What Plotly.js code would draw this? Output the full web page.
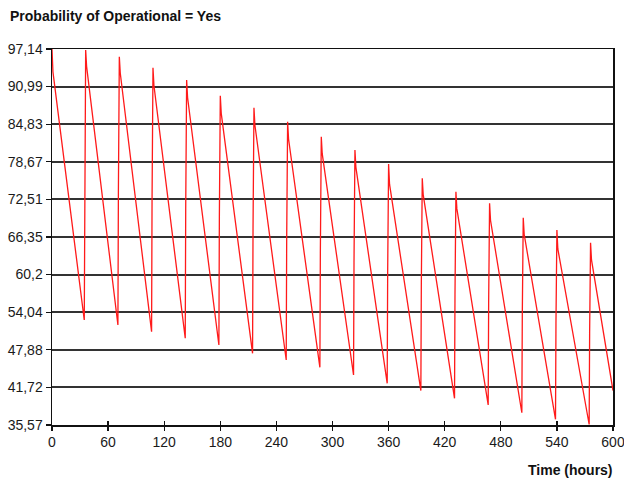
<!DOCTYPE html>
<html>
<head>
<meta charset="utf-8">
<script src="https://cdn.plot.ly/plotly-3.0.1.min.js"></script>
<style>
  html, body { margin: 0; padding: 0; background: #fff; }
  #chart { width: 624px; height: 481px; }
</style>
</head>
<body>
<div id="chart"></div>
<script>
// Sawtooth vertices
const peakHour   = [0, 36, 72, 108, 144, 180, 216, 252, 288, 324, 360, 396, 432, 468, 504, 540, 576];
const peakValue  = [97.14, 96.98, 95.88, 94.08, 92.06, 89.5, 87.53, 85.24, 82.78, 80.6, 78.31, 75.97, 73.77, 71.87, 69.51, 67.5, 65.4];
const dropHour   = [1, 37, 73, 109, 145, 181, 217, 253, 289, 325, 361, 397, 433, 469, 505, 541, 577];
const dropValue  = [93.4, 94.3, 93.2, 91.2, 89.2, 86.6, 84.7, 82.4, 80.0, 77.8, 75.0, 73.3, 71.0, 69.1, 66.8, 64.4, 62.6];
const troughHour = [34.5, 70.5, 106.5, 142.5, 178.5, 214.5, 250.5, 286.5, 322.5, 358.5, 394.5, 430.5, 466.5, 502.5, 538.5, 574.5];
const troughValue= [52.77, 51.95, 50.85, 49.77, 48.67, 47.31, 46.21, 45.02, 43.76, 42.40, 41.2, 39.94, 38.85, 37.58, 36.50, 35.65];
const kneeHour   = [35, 71, 107, 143, 179, 215, 251, 287, 323, 359, 395, 431, 467, 503, 539, 575];
const kneeValue  = [74.5, 73.5, 72.3, 71.0, 69.7, 67.8, 66.0, 63.7, 62.2, 60.5, 58.7, 56.9, 55.5, 53.8, 52.2, 50.6];
const endHour    = 600;
const endValue   = 41.2;

const yTickVals  = [35.57, 41.72, 47.88, 54.04, 60.2, 66.35, 72.51, 78.67, 84.83, 90.99, 97.14];
const yTickText  = ["35,57", "41,72", "47,88", "54,04", "60,2", "66,35", "72,51", "78,67", "84,83", "90,99", "97,14"];
const xTickVals  = [0, 60, 120, 180, 240, 300, 360, 420, 480, 540, 600];
const xTickText  = ["0", "60", "120", "180", "240", "300", "360", "420", "480", "540", "600"];

const xs = [], ys = [];
for (let k = 0; k < peakHour.length; k++) {
  if (k > 0) { xs.push(kneeHour[k - 1]); ys.push(kneeValue[k - 1]); }
  xs.push(peakHour[k]); ys.push(peakValue[k]);
  xs.push(dropHour[k]); ys.push(dropValue[k]);
  if (k < troughHour.length) { xs.push(troughHour[k]); ys.push(troughValue[k]); }
}
xs.push(endHour); ys.push(endValue);

const font = "Liberation Sans, Arial, sans-serif";

const traces = [
  { x: xs, y: ys, type: 'scatter', mode: 'lines',
    line: { color: '#ff1a1a', width: 1.3 }, hoverinfo: 'skip', showlegend: false },
  { x: [0, 600], y: [35.57, 35.57], xaxis: 'x2', yaxis: 'y', type: 'scatter', mode: 'lines',
    line: { width: 0 }, hoverinfo: 'skip', showlegend: false }
];

const layout = {
  width: 624, height: 481,
  margin: { l: 52, r: 11, t: 49, b: 56, pad: 0 },
  paper_bgcolor: '#fff', plot_bgcolor: '#fff',
  font: { family: font, size: 14, color: '#1a1a1a' },
  showlegend: false,
  title: { text: '<b>Probability of Operational = Yes</b>',
    font: { family: font, size: 14, color: '#111' },
    xref: 'container', yref: 'container', x: 10/624, xanchor: 'left', y: 1 - 16/481, yanchor: 'middle' },
  xaxis: {
    range: [0, 600], tickmode: 'array', tickvals: xTickVals, ticktext: xTickText,
    showgrid: false, zeroline: false, showline: true, linecolor: '#111', linewidth: 1.5,
    mirror: true, ticks: 'outside', ticklen: 4, tickwidth: 1.3, tickcolor: '#111',
    ticklabeloverflow: 'allow',
    tickfont: { family: font, size: 14, color: '#1a1a1a' }, fixedrange: true
  },
  xaxis2: {
    overlaying: 'x', matches: 'x', range: [0, 600], tickmode: 'array', tickvals: xTickVals,
    showticklabels: false, showgrid: false, zeroline: false, showline: false,
    ticks: 'inside', ticklen: 4, tickwidth: 1.3, tickcolor: '#111', side: 'bottom', anchor: 'y'
  },
  yaxis: {
    range: [35.57, 97.14], tickmode: 'array', tickvals: yTickVals, ticktext: yTickText,
    showgrid: true, gridcolor: '#333', gridwidth: 2, zeroline: false,
    showline: true, linecolor: '#111', linewidth: 1.5, mirror: true,
    ticks: 'outside', ticklen: 5, tickwidth: 1.3, tickcolor: '#111',
    tickfont: { family: font, size: 14, color: '#1a1a1a' }, fixedrange: true
  },
  annotations: [
    { text: '<b>Time (hours)</b>', xref: 'paper', yref: 'paper', x: 1, y: 0,
      xanchor: 'right', yanchor: 'middle', xshift: 2, yshift: -45, showarrow: false,
      font: { family: font, size: 14, color: '#111' } }
  ]
};

Plotly.newPlot('chart', traces, layout, { staticPlot: true, displayModeBar: false });
</script>
</body>
</html>
